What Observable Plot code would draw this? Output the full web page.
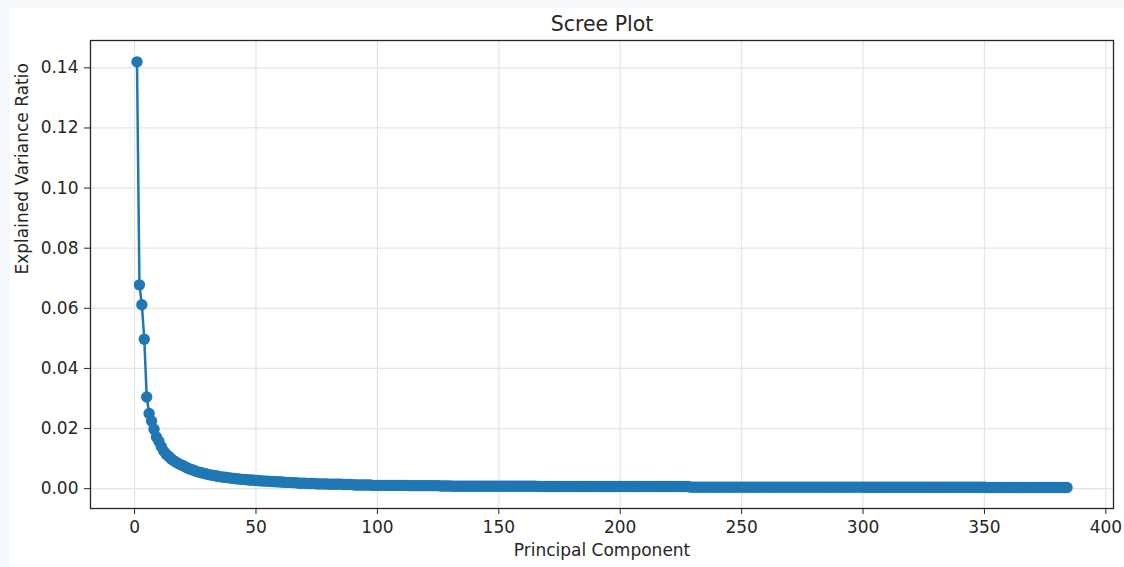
<!DOCTYPE html>
<html>
<head>
<meta charset="utf-8">
<script src="https://cdn.jsdelivr.net/npm/d3@7"></script>
<script src="https://cdn.jsdelivr.net/npm/@observablehq/plot@0.6"></script>
<style>
  html, body { margin: 0; padding: 0; background: #f5f8fb; }
  #bg { position: absolute; left: 10px; top: 8px; width: 1114px; height: 559px; background: #ffffff; }
  #chart { position: absolute; left: 0; top: 0; width: 1124px; height: 567px; }
</style>
</head>
<body>
<div id="bg"></div>
<div id="chart"></div>
<script>
// Principal component numbers (1..384)
const components = d3.range(1, 385);

// Explained variance ratio per component
const ratios = [
  0.1420,0.0678,0.0612,0.0497,0.0305,0.0250,0.0225,0.0198,0.0172,0.0158,
  0.0140,0.0125,0.0115,0.0108,0.0100,0.0094,0.0089,0.0084,0.0080,0.0076,
  0.0072,0.0068,0.0065,0.0062,0.0059,0.0056,0.0054,0.0052,0.0050,0.0048,
  0.0046,0.0045,0.0043,0.0042,0.0040,0.0039,0.0038,0.0037,0.0036,0.0035,
  0.0034,0.0033,0.0032,0.0031,0.0031,0.0030,0.0029,0.0029,0.0028,0.0027,
  0.0027,0.0026,0.0026,0.0025,0.0025,0.0024,0.0024,0.0023,0.0023,0.0022,
  0.0022,0.0021,0.0021,0.0021,0.0020,0.0020,0.0019,0.0018,0.0018,0.0018,
  0.0017,0.0017,0.0017,0.0017,0.0016,0.0016,0.0016,0.0016,0.0016,0.0015,
  0.0015,0.0015,0.0015,0.0015,0.0015,0.0014,0.0014,0.0014,0.0014,0.0013,
  0.0012,0.0012,0.0012,0.0012,0.0012,0.0012,0.0012,0.0011,0.0011,0.0011,
  0.0011,0.0011,0.0011,0.0011,0.0011,0.0011,0.0011,0.0011,0.0011,0.0011,
  0.0011,0.0011,0.0010,0.0010,0.0010,0.0010,0.0010,0.0010,0.0010,0.0010,
  0.0010,0.0010,0.0010,0.0010,0.0010,0.0009,0.0009,0.0009,0.0009,0.0009,
  0.0008,0.0008,0.0008,0.0008,0.0008,0.0008,0.0008,0.0008,0.0008,0.0008,
  0.0008,0.0008,0.0008,0.0008,0.0008,0.0008,0.0008,0.0008,0.0008,0.0008,
  0.0008,0.0008,0.0008,0.0008,0.0008,0.0008,0.0008,0.0008,0.0008,0.0008,
  0.0008,0.0008,0.0008,0.0008,0.0008,0.0007,0.0007,0.0007,0.0007,0.0007,
  0.0007,0.0007,0.0007,0.0007,0.0007,0.0007,0.0007,0.0007,0.0007,0.0007,
  0.0007,0.0007,0.0007,0.0007,0.0007,0.0007,0.0007,0.0007,0.0007,0.0007,
  0.0007,0.0007,0.0007,0.0007,0.0007,0.0007,0.0007,0.0007,0.0007,0.0007,
  0.0007,0.0007,0.0007,0.0007,0.0007,0.0007,0.0007,0.0007,0.0007,0.0007,
  0.0007,0.0007,0.0007,0.0007,0.0007,0.0007,0.0007,0.0007,0.0007,0.0007,
  0.0007,0.0007,0.0007,0.0007,0.0007,0.0007,0.0007,0.0007,0.0005,0.0005,
  0.0005,0.0005,0.0005,0.0005,0.0005,0.0005,0.0005,0.0005,0.0005,0.0005,
  0.0005,0.0005,0.0005,0.0005,0.0005,0.0005,0.0005,0.0005,0.0005,0.0005,
  0.0005,0.0005,0.0005,0.0005,0.0005,0.0005,0.0005,0.0005,0.0005,0.0005,
  0.0005,0.0005,0.0005,0.0005,0.0005,0.0005,0.0005,0.0005,0.0005,0.0005,
  0.0005,0.0005,0.0005,0.0005,0.0005,0.0005,0.0005,0.0005,0.0005,0.0005,
  0.0005,0.0005,0.0005,0.0005,0.0005,0.0005,0.0005,0.0005,0.0005,0.0005,
  0.0005,0.0005,0.0005,0.0005,0.0005,0.0005,0.0005,0.0005,0.0005,0.0005,
  0.00045,0.00045,0.00045,0.00045,0.00045,0.00045,0.00045,0.00045,0.00045,0.00045,
  0.00045,0.00045,0.00045,0.00045,0.00045,0.00045,0.00045,0.00045,0.00045,0.00045,
  0.00045,0.00045,0.00045,0.00045,0.00045,0.00045,0.00045,0.00045,0.00045,0.00045,
  0.00045,0.00045,0.00045,0.00045,0.00045,0.00045,0.00045,0.00045,0.00045,0.00045,
  0.00045,0.00045,0.00045,0.00045,0.00045,0.00045,0.00045,0.00045,0.00045,0.00045,
  0.0004,0.0004,0.0004,0.0004,0.0004,0.0004,0.0004,0.0004,0.0004,0.0004,
  0.0004,0.0004,0.0004,0.0004,0.0004,0.0004,0.0004,0.0004,0.0004,0.0004,
  0.0004,0.0004,0.0004,0.0004,0.0004,0.0004,0.0004,0.0004,0.0004,0.0004,
  0.0004,0.0004,0.0004,0.0004
];

const xTicks = [0, 50, 100, 150, 200, 250, 300, 350, 400];
const yTicks = [0, 0.02, 0.04, 0.06, 0.08, 0.10, 0.12, 0.14];
const title = "Scree Plot";
const xLabel = "Principal Component";
const yLabel = "Explained Variance Ratio";

const data = components.map((c, i) => ({pc: c, ratio: ratios[i]}));

const ink = "#262626";
const gridColor = "#e4e4e4";

const chart = Plot.plot({
  width: 1124,
  height: 567,
  marginLeft: 90,
  marginRight: 11,
  marginTop: 40,
  marginBottom: 59,
  style: {background: "transparent", fontFamily: "'DejaVu Sans', sans-serif", fontSize: "17px", color: ink},
  x: {domain: [-18.15, 403.15]},
  y: {domain: [-0.0066, 0.1491]},
  marks: [
    Plot.gridX(xTicks, {stroke: gridColor, strokeOpacity: 1, strokeWidth: 1.2}),
    Plot.gridY(yTicks, {stroke: gridColor, strokeOpacity: 1, strokeWidth: 1.2}),
    Plot.line(data, {x: "pc", y: "ratio", stroke: "#1f77b4", strokeWidth: 2.5}),
    Plot.dot(data, {x: "pc", y: "ratio", r: 5.7, fill: "#1f77b4", stroke: "none"}),
    Plot.frame({stroke: ink, strokeWidth: 1.3}),
    Plot.axisX(xTicks, {tickSize: 6, tickPadding: 6, label: null, tickFormat: d => String(d)}),
    Plot.axisY(yTicks, {tickSize: 6, tickPadding: 6, label: null, tickFormat: d3.format(".2f")}),
    Plot.text([title], {frameAnchor: "top", lineAnchor: "middle", dy: -16, fontSize: 20.5, fill: ink}),
    Plot.text([xLabel], {frameAnchor: "bottom", lineAnchor: "middle", dy: 42, fill: ink}),
    Plot.text([yLabel], {frameAnchor: "left", lineAnchor: "middle", dx: -68, rotate: -90, fill: ink})
  ]
});
document.getElementById("chart").appendChild(chart);
</script>
</body>
</html>
